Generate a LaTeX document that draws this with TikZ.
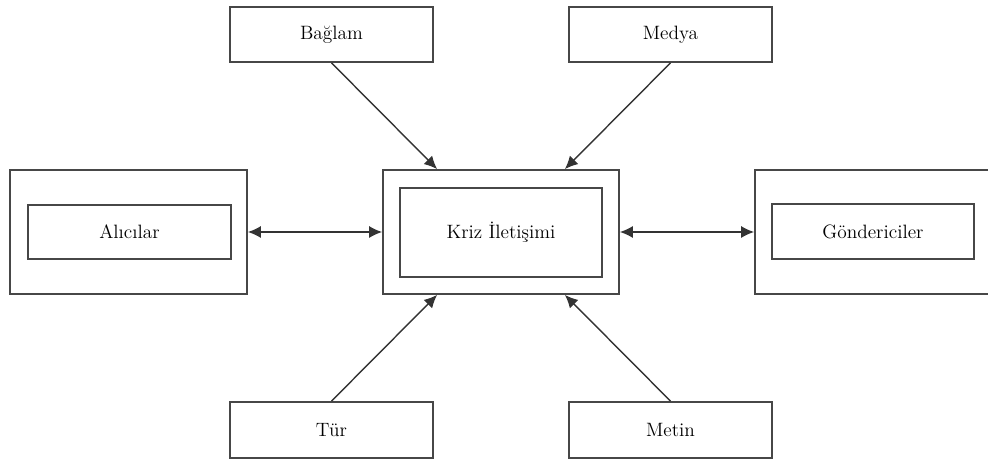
\documentclass[tikz,border=0pt]{standalone}
\usepackage{fontspec}
\usetikzlibrary{arrows.meta}

\tikzset{
	box/.style={draw=black!72, line width=1pt, fill=white, inner sep=0pt,
		font=\fontsize{11}{13}\selectfont},
	arr/.style={draw=black!80, line width=0.8pt, -{Latex[length=2.6mm,width=2.4mm]}},
	darr/.style={arr, {Latex[length=2.6mm,width=2.4mm]}-{Latex[length=2.6mm,width=2.4mm]}}
}

\begin{document}
\begin{tikzpicture}[x=0.02cm, y=-0.02cm]

				\useasboundingbox (0,0) rectangle (988,462);

				\node [box, minimum width=4.06cm, minimum height=1.1cm] (baglam) at (331.5,34.5) {Bağlam};
				\node [box, minimum width=4.06cm, minimum height=1.1cm] (medya) at (670.5,34.5) {Medya};

				\node [box, minimum width=4.74cm, minimum height=2.48cm] (alicilarOut) at (128.5,232) {};
				\node [box, minimum width=4.06cm, minimum height=1.08cm] (alicilar) at (129.5,232) {Alıcılar};

				\node [box, minimum width=4.72cm, minimum height=2.48cm] (krizOut) at (501,232) {};
				\node [box, minimum width=4.04cm, minimum height=1.78cm] (kriz) at (501,232.5) {Kriz İletişimi};

				\node [box, minimum width=4.8cm, minimum height=2.48cm] (gondOut) at (875,232) {};
				\node [box, minimum width=4.04cm, minimum height=1.1cm] (gond) at (873,231.5) {Göndericiler};

				\node [box, minimum width=4.06cm, minimum height=1.12cm] (tur) at (331.5,430) {Tür};
				\node [box, minimum width=4.06cm, minimum height=1.12cm] (metin) at (670.5,430) {Metin};

				\draw [arr] (baglam.south) -- ([xshift=1.1cm]krizOut.north west);
				\draw [arr] (medya.south) -- ([xshift=-1.1cm]krizOut.north east);
				\draw [arr] (tur.north) -- ([xshift=1.1cm]krizOut.south west);
				\draw [arr] (metin.north) -- ([xshift=-1.1cm]krizOut.south east);

				\draw [darr] (alicilarOut.east) -- (krizOut.west);
				\draw [darr] (krizOut.east) -- (gondOut.west);

\end{tikzpicture}
\end{document}
